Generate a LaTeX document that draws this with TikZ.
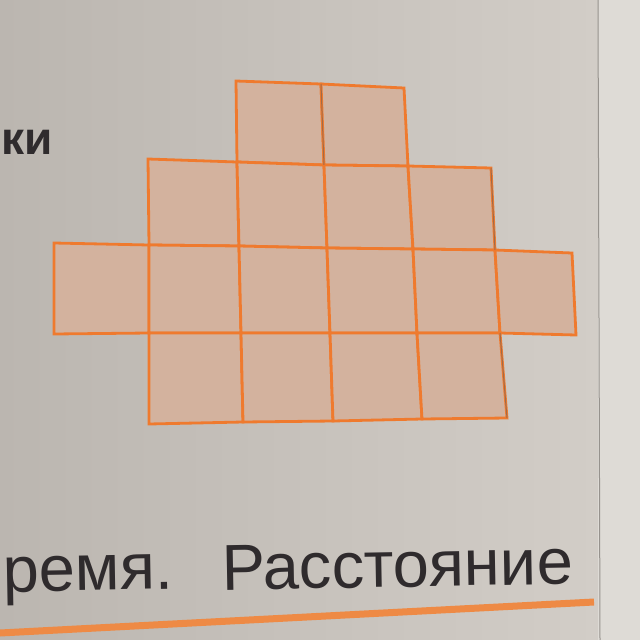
\documentclass[tikz,border=0pt]{standalone}
\usepackage{fontspec}
\setmainfont{Liberation Sans}
\definecolor{paperL}{HTML}{BBB6B0}
\definecolor{paperR}{HTML}{D2CDC7}
\definecolor{edge}{HTML}{DEDBD6}
\definecolor{cellfill}{HTML}{D3B29E}
\definecolor{cellline}{HTML}{EF7A2E}
\definecolor{inkgray}{HTML}{2F2B2D}
\definecolor{rule}{HTML}{EE8A45}
\definecolor{pencil}{HTML}{6E625A}
\begin{document}
\begin{tikzpicture}[x=1pt,y=-1pt,
  cellstyle/.style={fill=cellfill, draw=cellline, line width=2.8pt, line join=miter},
  printtext/.style={text=inkgray, inner sep=0pt},
  pencilline/.style={draw=pencil, line width=1pt, opacity=0.6}]
\useasboundingbox (0,0) rectangle (640,640);
% paper
\shade[left color=paperL, right color=paperR] (0,0) rectangle (598,640);
\fill[edge] (598,0) rectangle (640,640);
\draw[draw=paperL!80!black, line width=1pt] (598,0) -- (600,640);
% grid points
\coordinate (p03) at (236,81);  \coordinate (p04) at (321,84);  \coordinate (p05) at (404,88);
\coordinate (p12) at (148,159); \coordinate (p13) at (237,162); \coordinate (p14) at (324,165);
\coordinate (p15) at (408,166); \coordinate (p16) at (491,168);
\coordinate (p21) at (54,243);  \coordinate (p22) at (149,245); \coordinate (p23) at (239,246);
\coordinate (p24) at (327,248); \coordinate (p25) at (413,249); \coordinate (p26) at (495,250);
\coordinate (p27) at (572,253);
\coordinate (p31) at (54,334);  \coordinate (p32) at (149,333); \coordinate (p33) at (241,333);
\coordinate (p34) at (330,333); \coordinate (p35) at (417,333); \coordinate (p36) at (500,333);
\coordinate (p37) at (576,335);
\coordinate (p42) at (149,424); \coordinate (p43) at (243,422); \coordinate (p44) at (333,421);
\coordinate (p45) at (422,419); \coordinate (p46) at (507,418);
% cells: row r between lines r and r+1, columns c to c+1
\foreach \r/\c in {0/3,0/4, 1/2,1/3,1/4,1/5, 2/1,2/2,2/3,2/4,2/5,2/6, 3/2,3/3,3/4,3/5}{
  \pgfmathtruncatemacro{\rn}{\r+1}
  \pgfmathtruncatemacro{\cn}{\c+1}
  \path[cellstyle] (p\r\c) -- (p\r\cn) -- (p\rn\cn) -- (p\rn\c) -- cycle;
}
% pencil traces
\draw[pencilline] (p04) -- (p14);
\draw[pencilline] (p16) -- (p26);
\draw[pencilline] (p36) -- (p46);
% texts
\node[printtext, anchor=base west, font=\fontsize{46}{46}\selectfont\bfseries] (ki) at (1,154) {ки};
\node[printtext, anchor=base west, font=\fontsize{65}{65}\selectfont, rotate=1] (vremya) at (3,592) {ремя.};
\node[printtext, anchor=base west, font=\fontsize{65}{65}\selectfont, rotate=1] (rasst) at (222,590) {Расстояние};
% orange rule
\coordinate (r0) at (0,633);
\coordinate (r1) at (594,602);
\draw[rule, line width=7pt] (r0) -- (r1);
\end{tikzpicture}
\end{document}
